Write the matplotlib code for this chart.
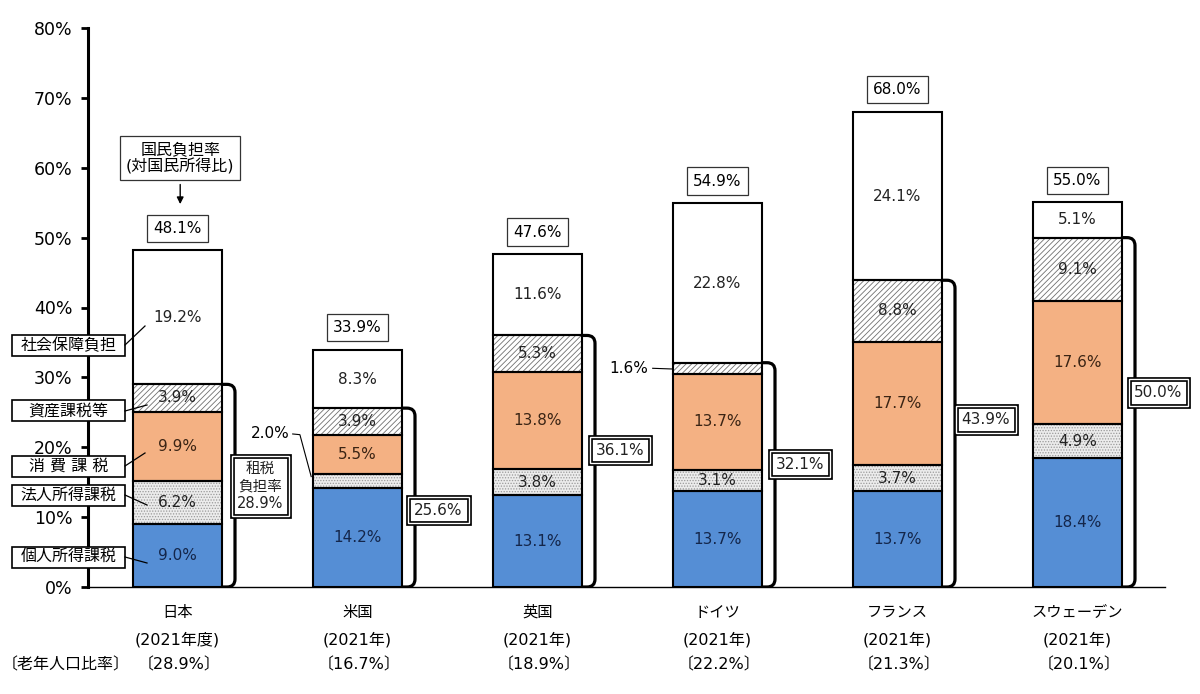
import matplotlib
matplotlib.use("Agg")
import matplotlib.pyplot as plt
from matplotlib.patches import Rectangle, PathPatch
from matplotlib.path import Path
import matplotlib.transforms as mtransforms

plt.rcParams['font.family'] = ['DejaVu Sans', 'Noto Sans CJK JP']
plt.rcParams['hatch.linewidth'] = 0.6

# データ
countries = ["日本", "米国", "英国", "ドイツ", "フランス", "スウェーデン"]
years = ["(2021年度)", "(2021年)", "(2021年)", "(2021年)", "(2021年)", "(2021年)"]
elderly = ["〔28.9%〕", "〔16.7%〕", "〔18.9%〕", "〔22.2%〕", "〔21.3%〕", "〔20.1%〕"]

kojin = [9.0, 14.2, 13.1, 13.7, 13.7, 18.4]      # 個人所得課税
hojin = [6.2, 2.0, 3.8, 3.1, 3.7, 4.9]           # 法人所得課税
shohi = [9.9, 5.5, 13.8, 13.7, 17.7, 17.6]       # 消費課税
shisan = [3.9, 3.9, 5.3, 1.6, 8.8, 9.1]          # 資産課税等
shakai = [19.2, 8.3, 11.6, 22.8, 24.1, 5.1]      # 社会保障負担
kokumin = [48.1, 33.9, 47.6, 54.9, 68.0, 55.0]   # 国民負担率
sozei = [28.9, 25.6, 36.1, 32.1, 43.9, 50.0]     # 租税負担率

# レイアウト
brace_label_y = [14.45, 11.0, 19.6, 17.6, 24.0, 27.8]
brace_label_dx = [0.46, 0.45, 0.46, 0.46, 0.49, 0.45]

fig = plt.figure(figsize=(12, 6.94), dpi=100)
ax = fig.add_axes([88/1200, 107/694, (1165-88)/1200, (587-28)/694])

PX_X = 180.0          # px per x unit
PX_Y = (587-28)/80.0  # px per %
x0 = (88-177.5)/PX_X
ax.set_xlim(x0, x0 + (1165-88)/PX_X)
ax.set_ylim(0, 80)

xs = list(range(len(countries)))
w = 89/PX_X

blue = '#558ed5'
orange = '#f4b183'

segments = [
    (kojin, dict(color=blue)),
    (hojin, dict(color='#ececec', hatch='......', edgecolor='#9a9a9a')),
    (shohi, dict(color=orange)),
    (shisan, dict(color='white', hatch='//////', edgecolor='#707070')),
    (shakai, dict(color='white')),
]

bottom = [0.0]*len(xs)
for vals, st in segments:
    ax.bar(xs, vals, w, bottom=bottom, color=st['color'], hatch=st.get('hatch'),
           edgecolor=st.get('edgecolor', st['color']), linewidth=0, zorder=2)
    ax.bar(xs, vals, w, bottom=bottom, fill=False, edgecolor='black',
           linewidth=1.5, zorder=3)
    bottom = [b + v for b, v in zip(bottom, vals)]

# 値ラベル
txt_colors = ['#14264a', '#222222', '#3a2414', '#222222', '#222222']
bottom = [0.0]*len(xs)
for si, ((vals, st), tc) in enumerate(zip(segments, txt_colors)):
    for i, v in enumerate(vals):
        yc = bottom[i] + v/2
        if si == 1 and i == 1:
            ax.text(i - 0.378, 21.9, f"{v:.1f}%", ha='right', va='center', fontsize=11, zorder=5)
            ax.plot([i - 0.36, i - 0.32, i - w/2 - 0.01], [21.9, 21.8, yc + 0.6],
                    color='black', lw=0.8, zorder=5)
        elif si == 3 and i == 3:
            ax.text(i - 0.385, 31.3, f"{v:.1f}%", ha='right', va='center', fontsize=11, zorder=5)
            ax.plot([i - 0.36, i - w/2 - 0.005], [31.3, yc - 0.1], color='black', lw=0.8, zorder=5)
        else:
            ax.text(i, yc, f"{v:.1f}%", ha='center', va='center', fontsize=11, color=tc, zorder=5)
    bottom = [b + v for b, v in zip(bottom, vals)]

# 国民負担率ラベル
for i, t in enumerate(kokumin):
    ax.text(i, t + 3.2, f"{t:.1f}%", ha='center', va='center', fontsize=11, zorder=5,
            bbox=dict(boxstyle='square,pad=0.4', fc='white', ec='#333333', lw=0.9))

# 括弧
bx = 13/PX_X
rx = 8/PX_X
ry = 8/PX_Y
for i, top in enumerate(sozei):
    tax_top = kojin[i] + hojin[i] + shohi[i] + shisan[i]
    xl = i + w/2
    xr = xl + bx
    verts = [(xl, tax_top), (xr - rx, tax_top), (xr, tax_top), (xr, tax_top - ry),
             (xr, ry), (xr, 0), (xr - rx, 0), (xl, 0)]
    codes = [Path.MOVETO, Path.LINETO, Path.CURVE3, Path.CURVE3,
             Path.LINETO, Path.CURVE3, Path.CURVE3, Path.LINETO]
    ax.add_patch(PathPatch(Path(verts, codes), fill=False, lw=2.3, ec='black',
                           zorder=4, capstyle='round', joinstyle='round'))
    lab = f"{top:.1f}%" if i > 0 else f"租税\n負担率\n{top:.1f}%"
    # 二重枠: 太い黒枠の上に細い白線を重ねる
    for fc, ec, lw, col in (('white', 'black', 3.4, '#222222'), ('none', 'white', 1.0, (0, 0, 0, 0))):
        ax.text(i + brace_label_dx[i], brace_label_y[i], lab, ha='center', va='center',
                fontsize=11 if i > 0 else 10.5, linespacing=1.2, zorder=6, color=col,
                bbox=dict(boxstyle='square,pad=0.38', fc=fc, ec=ec, lw=lw))

# 日本の注記
ax.text(0.015, 61.4, "国民負担率\n(対国民所得比)", ha='center', va='center', fontsize=11.5,
        linespacing=1.1, zorder=6,
        bbox=dict(boxstyle='square,pad=0.35', fc='white', ec='#333333', lw=0.9))
ax.annotate("", xy=(0.015, 54.4), xytext=(0.015, 58.0),
            arrowprops=dict(arrowstyle='-|>', color='black', lw=1.0, mutation_scale=10), zorder=6)

# 左側の凡例ボックス
legend_items = [
    ("社会保障負担", 345, (145, 326)),
    ("資産課税等", 411, (147, 405)),
    ("消 費 課 税", 466, (145, 453)),
    ("法人所得課税", 495, (147, 505)),
    ("個人所得課税", 557, (147, 563)),
]
def px2x(px):
    return (px - 177.5)/PX_X
def py2y(py):
    return (587 - py)/PX_Y
for name, cy, (lx, ly) in legend_items:
    ax.add_patch(Rectangle((px2x(12), py2y(cy + 10.5)), 113/PX_X, 21/PX_Y, fc='white',
                           ec='black', lw=1.2, zorder=7, clip_on=False))
    ax.text(px2x(68.5), py2y(cy), name, ha='center', va='center', fontsize=11.5,
            zorder=8, clip_on=False)
    ax.plot([px2x(125), px2x(lx)], [py2y(cy), py2y(ly)], color='black', lw=0.9,
            zorder=7, clip_on=False)

# 軸
ax.set_yticks(range(0, 81, 10))
ax.set_yticklabels([f"{v}%" for v in range(0, 81, 10)], fontsize=12.5)
ax.tick_params(axis='y', length=5, width=2, pad=6)
ax.set_xticks([])
for s in ('top', 'right'):
    ax.spines[s].set_visible(False)
ax.spines['left'].set_linewidth(2.2)
ax.spines['bottom'].set_linewidth(1.0)

# 下のラベル
trans = mtransforms.blended_transform_factory(ax.transData, fig.transFigure)
for i in xs:
    ax.text(i, 1 - 612/694, countries[i], transform=trans, ha='center', va='center', fontsize=11)
    ax.text(i, 1 - 640/694, years[i], transform=trans, ha='center', va='center', fontsize=11.5)
    ax.text(i + 0.01, 1 - 665/694, elderly[i], transform=trans, ha='center', va='center', fontsize=11.5)
fig.text(66/1200, 1 - 665/694, "〔老年人口比率〕", ha='center', va='center', fontsize=11.5)

fig.savefig("out.png", dpi=100)
